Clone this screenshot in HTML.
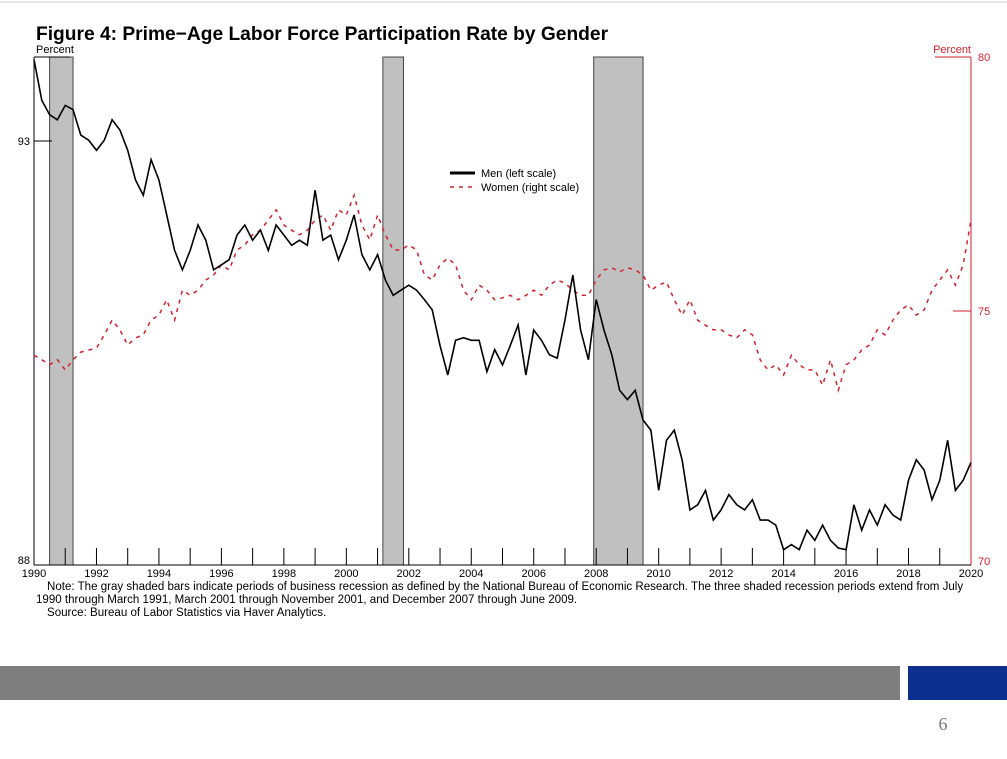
<!DOCTYPE html>
<html><head><meta charset="utf-8"><style>
body{margin:0;width:1007px;height:759px;background:#fff;overflow:hidden;font-family:"Liberation Sans",Arial,sans-serif;}
svg{position:absolute;left:0;top:0}
</style></head><body>
<svg width="1007" height="759">
<line x1="0" y1="2" x2="1007" y2="2" stroke="#ccc"/>
<text x="36" y="40" font-size="19.2" font-weight="bold" fill="#000">Figure 4: Prime−Age Labor Force Participation Rate by Gender</text>
<text x="36" y="53" font-size="11">Percent</text>
<text x="971" y="53" font-size="11" fill="#d2222d" text-anchor="end">Percent</text>
<g id="rec"></g>
<g id="axes"></g>
<g id="series"></g>
<g>
<line x1="450" y1="173" x2="475" y2="173" stroke="#000" stroke-width="3"/>
<text x="481" y="177" font-size="11">Men (left scale)</text>
<line x1="450" y1="187" x2="475" y2="187" stroke="#d2222d" stroke-width="1.5" stroke-dasharray="4,5"/>
<text x="481" y="191" font-size="11">Women (right scale)</text>
</g>
<text x="47" y="590" font-size="11.55">Note: The gray shaded bars indicate periods of business recession as defined by the National Bureau of Economic Research. The three shaded recession periods extend from July</text>
<text x="36" y="603" font-size="11.55">1990 through March 1991, March 2001 through November 2001, and December 2007 through June 2009.</text>
<text x="47" y="616" font-size="11.55">Source: Bureau of Labor Statistics via Haver Analytics.</text>
<rect x="0" y="666" width="900" height="34" fill="#7f7f7f"/>
<rect x="908" y="666" width="99" height="34" fill="#0d2f8f"/>
<text x="943" y="730" font-size="18" fill="#777" text-anchor="middle" font-family="Liberation Serif,serif">6</text>
</svg>
<script>
const recessions=[[1990.5,1991.25],[2001.17,2001.83],[2007.92,2009.5]];
const xTickYears=[1990,1992,1994,1996,1998,2000,2002,2004,2006,2008,2010,2012,2014,2016,2018,2020];
const leftTicks=[88,93];
const rightTicks=[70,75,80];
const men=[93.96,93.48,93.31,93.25,93.42,93.37,93.07,93.01,92.89,93.01,93.25,93.13,92.89,92.54,92.36,92.78,92.54,92.13,91.71,91.48,91.71,92.01,91.83,91.48,91.54,91.60,91.89,92.01,91.83,91.95,91.71,92.01,91.89,91.77,91.83,91.77,92.42,91.83,91.89,91.60,91.83,92.13,91.66,91.48,91.66,91.36,91.18,91.24,91.30,91.24,91.13,91.01,90.59,90.24,90.65,90.68,90.65,90.65,90.28,90.54,90.36,90.59,90.83,90.24,90.77,90.65,90.48,90.44,90.89,91.42,90.77,90.42,91.13,90.77,90.48,90.06,89.95,90.06,89.71,89.59,88.88,89.47,89.59,89.24,88.65,88.71,88.88,88.53,88.65,88.83,88.71,88.65,88.77,88.53,88.53,88.47,88.18,88.24,88.18,88.41,88.29,88.47,88.29,88.20,88.18,88.71,88.41,88.65,88.47,88.71,88.59,88.53,89.00,89.24,89.12,88.77,89.00,89.47,88.88,89.00,89.21];
const women=[74.13,74.04,73.94,74.04,73.84,74.04,74.19,74.23,74.27,74.53,74.82,74.63,74.33,74.47,74.53,74.82,74.92,75.22,74.82,75.41,75.31,75.41,75.61,75.71,75.91,75.81,76.20,76.30,76.50,76.59,76.79,76.99,76.69,76.59,76.50,76.59,76.79,76.89,76.59,76.99,76.89,77.28,76.69,76.40,76.89,76.50,76.20,76.20,76.30,76.20,75.71,75.61,75.91,76.04,75.91,75.41,75.22,75.51,75.41,75.22,75.26,75.31,75.22,75.31,75.41,75.31,75.51,75.61,75.55,75.41,75.31,75.31,75.61,75.81,75.85,75.77,75.85,75.81,75.71,75.41,75.51,75.57,75.22,74.92,75.22,74.82,74.72,74.63,74.63,74.53,74.47,74.63,74.53,74.04,73.84,73.94,73.74,74.13,73.94,73.84,73.84,73.54,74.04,73.44,73.94,74.04,74.23,74.33,74.63,74.53,74.82,75.02,75.12,74.92,75.02,75.41,75.61,75.81,75.51,75.91,76.79];
const X0=34,X1=971,Y0=57,Y1=565;
const x=t=>X0+(t-1990)*(X1-X0)/30;
const yL=v=>Y1-(v-88)*84.8;
const yR=v=>Y1-(v-70)*(Y1-Y0)/10;
const NS='http://www.w3.org/2000/svg';
function mk(tag,attrs,parent){const e=document.createElementNS(NS,tag);for(const k in attrs)e.setAttribute(k,attrs[k]);document.getElementById(parent).appendChild(e);return e;}
recessions.forEach(r=>{const e=mk('rect',{x:x(r[0]),y:Y0,width:x(r[1])-x(r[0]),height:Y1-Y0,fill:'#c0c0c0',stroke:'#444','stroke-width':1},'rec');

});
let e=mk('line',{x1:X0,y1:Y0,x2:X0,y2:Y1,stroke:'#000'},'axes');


e=mk('line',{x1:X1,y1:Y0,x2:X1,y2:Y1,stroke:'#d2222d'},'axes');


e=mk('line',{x1:X0,y1:Y0,x2:X0+36,y2:Y0,stroke:'#000'},'axes');


e=mk('line',{x1:X1-36,y1:Y0,x2:X1,y2:Y0,stroke:'#d2222d'},'axes');


e=mk('line',{x1:X0,y1:Y1,x2:X1,y2:Y1,stroke:'#000'},'axes');


for(let yr=1991;yr<2020;yr++){e=mk('line',{x1:x(yr),y1:Y1,x2:x(yr),y2:Y1-17,stroke:'#000'},'axes');

}
xTickYears.forEach(yr=>{e=mk('text',{x:x(yr),y:Y1+12,'font-size':11,'text-anchor':'middle'},'axes');e.textContent=yr;

});
leftTicks.forEach(v=>{if(v>88){e=mk('line',{x1:X0,y1:yL(v),x2:X0+18,y2:yL(v),stroke:'#000'},'axes');

}
e=mk('text',{x:X0-4,y:yL(v)+(v==88?-1:4),'font-size':11,'text-anchor':'end'},'axes');e.textContent=v;

});
rightTicks.forEach(v=>{if(v==75){e=mk('line',{x1:X1-18,y1:yR(v),x2:X1,y2:yR(v),stroke:'#d2222d'},'axes');

}
e=mk('text',{x:X1+7,y:yR(v)+(v==70?0:4),'font-size':11,fill:'#d2222d'},'axes');e.textContent=v;

});
const tOf=(i,n)=>1990+i*30/(n-1);
let pw=women.map((v,i)=>x(tOf(i,women.length)).toFixed(1)+','+yR(v).toFixed(1)).join(' ');
e=mk('polyline',{points:pw,fill:'none',stroke:'#d2222d','stroke-width':1.5,'stroke-dasharray':'4,5'},'series');


let pm=men.map((v,i)=>x(tOf(i,men.length)).toFixed(1)+','+yL(v).toFixed(1)).join(' ');
e=mk('polyline',{points:pm,fill:'none',stroke:'#000','stroke-width':1.6},'series');


</script>
</body></html>
